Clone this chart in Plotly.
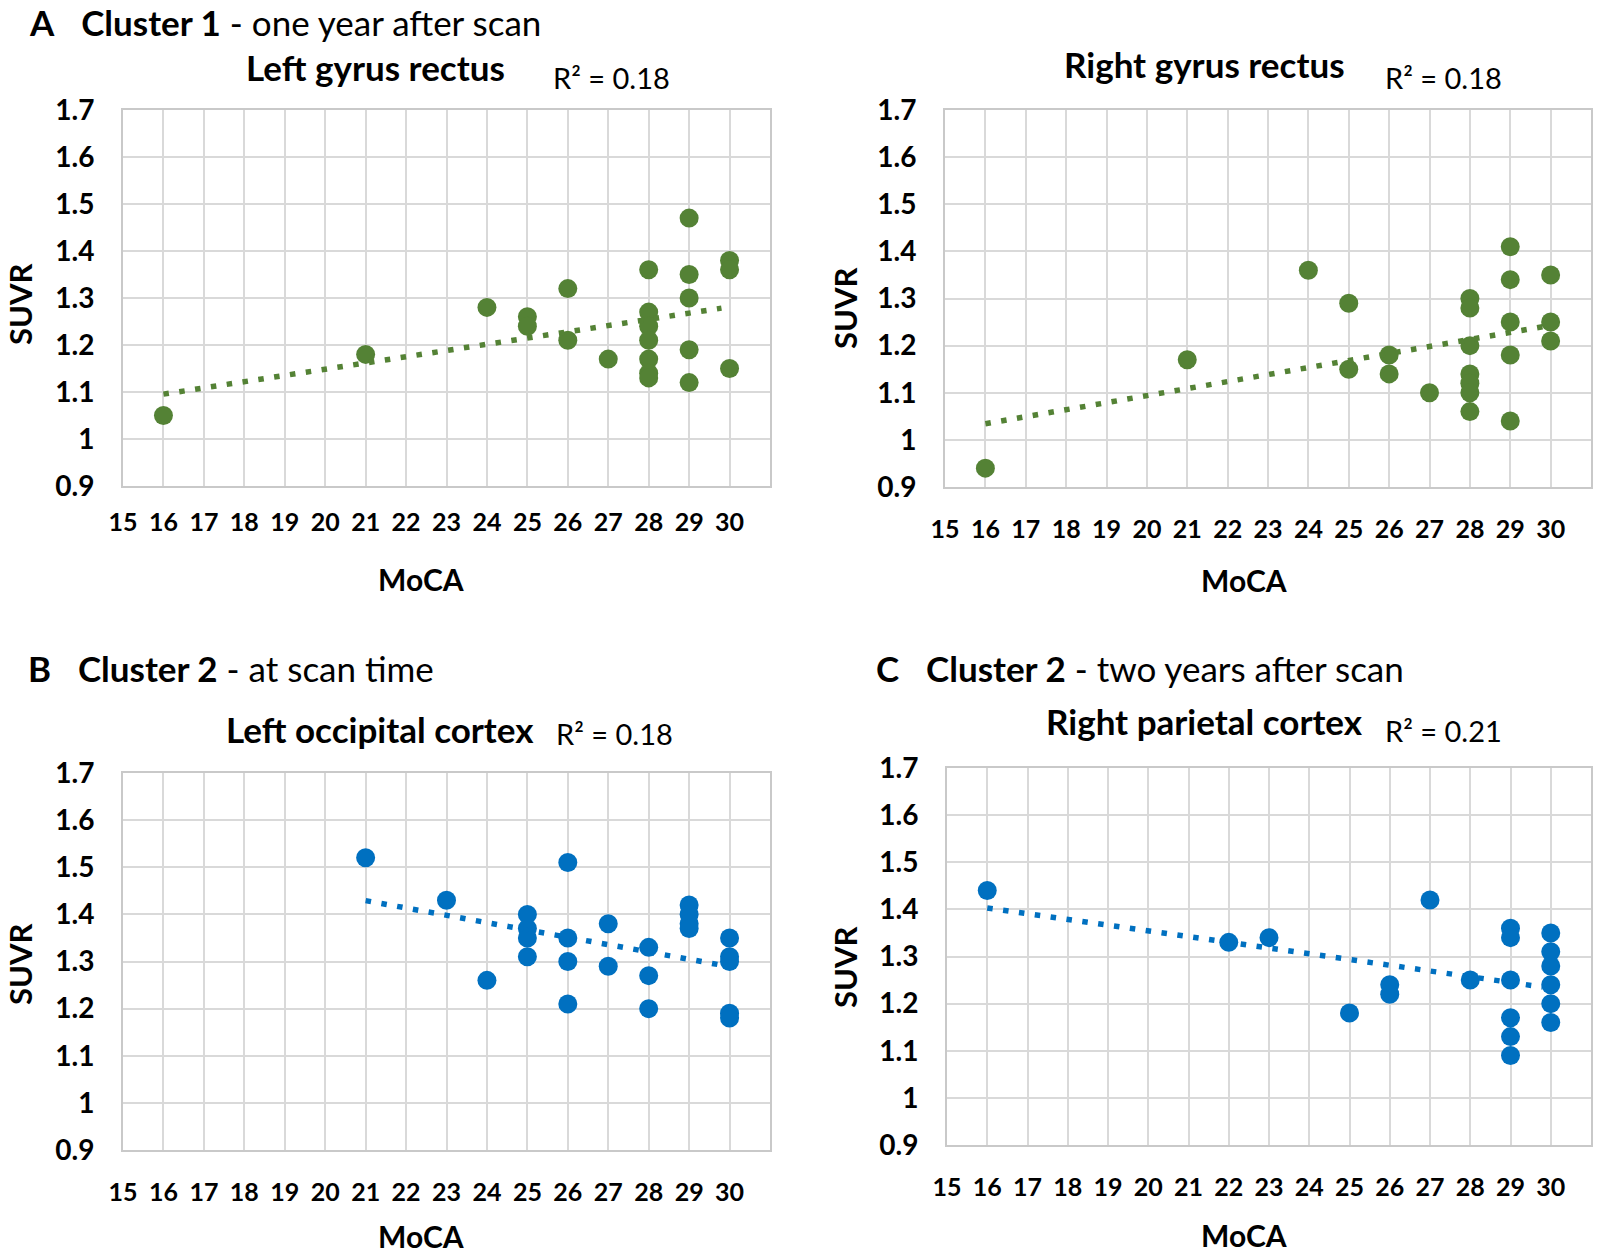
import numpy as np
import plotly.graph_objects as go

# ---------------- data ----------------
# Panel A (left): Cluster 1 - one year after scan, Left gyrus rectus
lgr_moca = [16, 21, 24, 25, 25, 26, 26, 27,
            28, 28, 28, 28, 28, 28, 28,
            29, 29, 29, 29, 29,
            30, 30, 30]
lgr_suvr = [1.05, 1.18, 1.28, 1.26, 1.24, 1.32, 1.21, 1.17,
            1.36, 1.27, 1.24, 1.21, 1.17, 1.14, 1.13,
            1.47, 1.35, 1.30, 1.19, 1.12,
            1.38, 1.36, 1.15]

# Panel A (right): Right gyrus rectus
rgr_moca = [16, 21, 24, 25, 25, 26, 26, 27,
            28, 28, 28, 28, 28, 28, 28,
            29, 29, 29, 29, 29,
            30, 30, 30]
rgr_suvr = [0.94, 1.17, 1.36, 1.29, 1.15, 1.18, 1.14, 1.10,
            1.30, 1.28, 1.20, 1.14, 1.12, 1.10, 1.06,
            1.41, 1.34, 1.25, 1.18, 1.04,
            1.35, 1.25, 1.21]

# Panel B: Cluster 2 - at scan time, Left occipital cortex
loc_moca = [21, 23, 24, 25, 25, 25, 25, 26, 26, 26, 26, 27, 27,
            28, 28, 28, 29, 29, 29, 29, 30, 30, 30, 30, 30]
loc_suvr = [1.52, 1.43, 1.26, 1.40, 1.37, 1.35, 1.31, 1.51, 1.35, 1.30, 1.21, 1.38, 1.29,
            1.33, 1.27, 1.20, 1.42, 1.40, 1.38, 1.37, 1.35, 1.31, 1.30, 1.19, 1.18]

# Panel C: Cluster 2 - two years after scan, Right parietal cortex
rpc_moca = [16, 22, 23, 25, 26, 26, 27, 28,
            29, 29, 29, 29, 29, 29,
            30, 30, 30, 30, 30, 30]
rpc_suvr = [1.44, 1.33, 1.34, 1.18, 1.24, 1.22, 1.42, 1.25,
            1.36, 1.34, 1.25, 1.17, 1.13, 1.09,
            1.35, 1.31, 1.28, 1.24, 1.20, 1.16]

x_ticks = list(range(15, 31))
y_ticks = [0.9, 1.0, 1.1, 1.2, 1.3, 1.4, 1.5, 1.6, 1.7]
y_ticktext = ["0.9", "1", "1.1", "1.2", "1.3", "1.4", "1.5", "1.6", "1.7"]

panel_titles = ["Left gyrus rectus", "Right gyrus rectus", "Left occipital cortex", "Right parietal cortex"]
r2_texts = ["R\u00b2 = 0.18", "R\u00b2 = 0.18", "R\u00b2 = 0.18", "R\u00b2 = 0.21"]

GREEN = "#548235"
BLUE = "#0070C0"
FONT = "Lato, sans-serif"

W, H = 1600, 1256
def px(x): return x / W
def py(y): return 1 - y / H

# plot-area boxes in page pixels: (left, right, top, bottom)
boxes = [(123, 770, 110, 486), (945, 1591, 110, 487), (123, 770, 773, 1150), (947, 1591, 768, 1145)]
x_standoff = [13, 19, 19, 19]

datasets = [(lgr_moca, lgr_suvr, GREEN), (rgr_moca, rgr_suvr, GREEN),
            (loc_moca, loc_suvr, BLUE), (rpc_moca, rpc_suvr, BLUE)]

fig = go.Figure()
for i, ((xs, ys, col), box) in enumerate(zip(datasets, boxes)):
    n = "" if i == 0 else str(i + 1)
    xa, ya = "x" + n, "y" + n
    fig.add_trace(go.Scatter(x=xs, y=ys, mode="markers", xaxis=xa, yaxis=ya,
                             marker=dict(size=19, color=col), showlegend=False))
    slope, icpt = np.polyfit(np.array(xs, float), np.array(ys, float), 1)
    xl = np.array([min(xs), max(xs) - 0.2])
    fig.add_trace(go.Scatter(x=xl, y=slope * xl + icpt, mode="lines", xaxis=xa, yaxis=ya,
                             line=dict(color=col, width=5.5, dash="5.5px,10.5px"), showlegend=False))
    l, r, t, b = box
    fig.layout["xaxis" + n] = dict(domain=[px(l), px(r)], anchor=ya, range=[15, 31], automargin=False,
                                   tickvals=x_ticks, showgrid=True, gridcolor="#D9D9D9", gridwidth=2,
                                   showline=True, mirror=True, linecolor="#C9C9C9", linewidth=2,
                                   zeroline=False, ticks="", ticklabelstandoff=x_standoff[i],
                                   tickfont=dict(family=FONT, size=25, color="black", weight="bold"))
    fig.layout["yaxis" + n] = dict(domain=[py(b), py(t)], anchor=xa, range=[0.9, 1.7], automargin=False,
                                   tickvals=y_ticks, ticktext=y_ticktext, showgrid=True,
                                   gridcolor="#D9D9D9", gridwidth=2,
                                   showline=True, mirror=True, linecolor="#C9C9C9", linewidth=2,
                                   zeroline=False, ticks="", ticklabelstandoff=21,
                                   tickfont=dict(family=FONT, size=28, color="black", weight="bold"))

ann = []
def text(x, y, s, size, xanchor="left", angle=0):
    ann.append(dict(x=px(x), y=py(y), xref="paper", yref="paper", text=s, showarrow=False,
                    xanchor=xanchor, yanchor="middle", textangle=angle,
                    font=dict(family=FONT, size=size, color="black")))

sp = "\u00a0\u00a0\u00a0"
text(27, 22, "<b>A</b>" + sp + "<b>Cluster 1</b> - one year after scan", 35)
text(26, 668, "<b>B</b>" + sp + "<b>Cluster 2</b> - at scan time", 35)
text(874, 668, "<b>C</b>" + sp + "<b>Cluster 2</b> - two years after scan", 35)

title_pos = [(375, 67), (1204, 64), (380, 729), (1204, 721)]
r2_pos = [(551, 77), (1383, 77), (554, 733), (1383, 731)]
for (tx, ty), s in zip(title_pos, panel_titles):
    text(tx, ty, "<b>" + s + "</b>", 35, xanchor="center")
for (rx, ry), s in zip(r2_pos, r2_texts):
    text(rx, ry, s, 29)

for (sx, sy) in [(20, 304), (845, 308), (20, 964), (845, 967)]:
    text(sx, sy, "<b>SUVR</b>", 31, xanchor="center", angle=-90)
for (mx, my) in [(421, 579), (1244, 580), (421, 1236), (1244, 1235)]:
    text(mx, my, "<b>MoCA</b>", 30, xanchor="center")

fig.update_layout(width=W, height=H, margin=dict(l=0, r=0, t=0, b=0),
                  plot_bgcolor="white", paper_bgcolor="white", annotations=ann,
                  font=dict(family=FONT))

# remove the page's default 8px body margin so the figure fills the window
fig.write_html("out.html", config={"displayModeBar": False},
               post_script="document.body.style.margin='0';")
